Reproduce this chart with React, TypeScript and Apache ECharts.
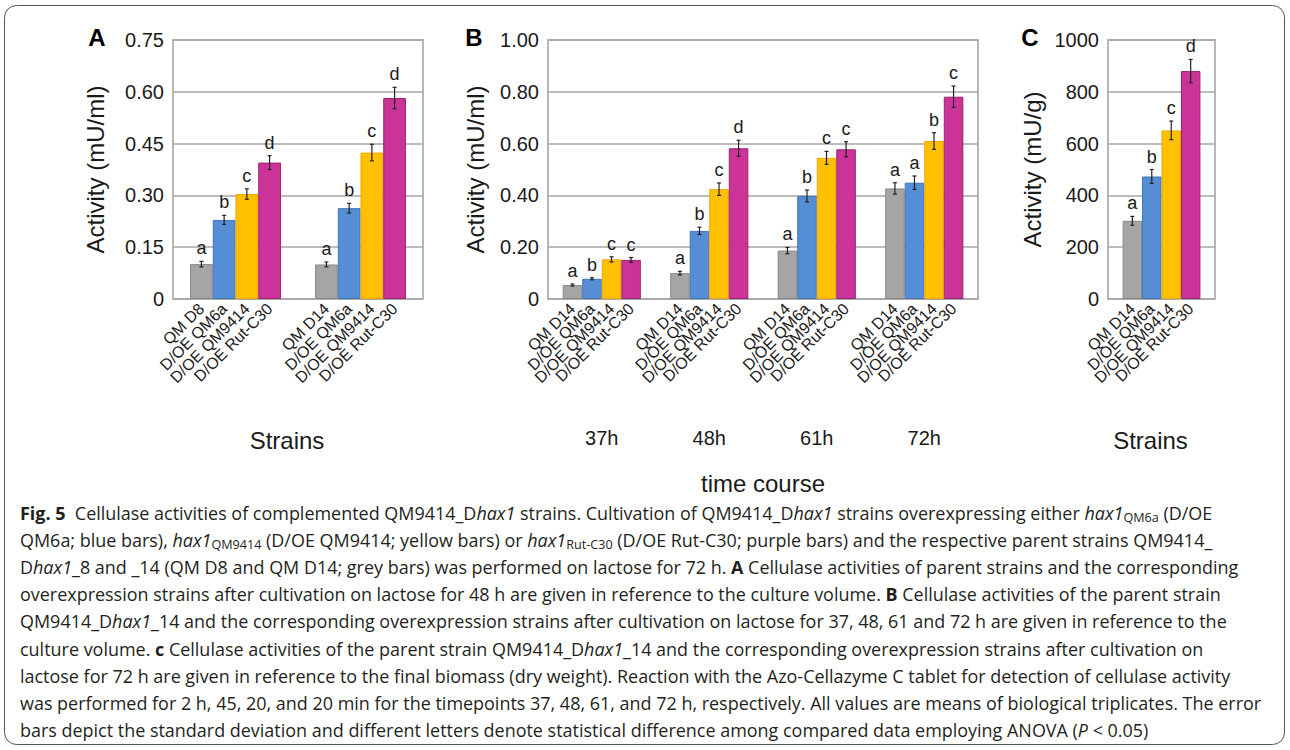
import React, { useEffect, useRef } from "react";
import * as echarts from "echarts";

// ---------- data ----------
const STRAINS_OE = ["D/OE QM6a", "D/OE QM9414", "D/OE Rut-C30"];
const PARENTS_A = ["QM D8", "QM D14"];
const PARENT_BC = "QM D14";
const TIME_POINTS = ["37h", "48h", "61h", "72h"];

// Panel A: activity (mU/ml) after 48 h, per group [grey, blue, yellow, purple]
const A_D8 = [0.101, 0.229, 0.304, 0.395];
const A_D14 = [0.1, 0.263, 0.424, 0.582];
const A_D8_ERR = [0.008, 0.013, 0.015, 0.02];
const A_D14_ERR = [0.007, 0.014, 0.024, 0.031];
const A_LETTERS = [["a", "b", "c", "d"], ["a", "b", "c", "d"]];

// Panel B: activity (mU/ml) over time, per time point
const B_37 = [0.054, 0.078, 0.153, 0.151];
const B_48 = [0.1, 0.263, 0.424, 0.582];
const B_61 = [0.187, 0.398, 0.545, 0.578];
const B_72 = [0.427, 0.449, 0.61, 0.781];
const B_37_ERR = [0.004, 0.004, 0.01, 0.009];
const B_48_ERR = [0.007, 0.014, 0.024, 0.031];
const B_61_ERR = [0.012, 0.023, 0.025, 0.029];
const B_72_ERR = [0.022, 0.026, 0.032, 0.041];
const B_LETTERS = [["a", "b", "c", "c"], ["a", "b", "c", "d"], ["a", "b", "c", "c"], ["a", "a", "b", "c"]];

// Panel C: activity (mU/g) after 72 h
const C_72 = [302, 473, 651, 880];
const C_72_ERR = [17, 27, 36, 45];
const C_LETTERS = [["a", "b", "c", "d"]];

// y-axis ticks
const A_TICKS = { max: 0.75, interval: 0.15 };
const B_TICKS = { max: 1.0, interval: 0.2 };
const C_TICKS = { max: 1000, interval: 200 };

const BAR_COLORS = ["#a5a5a5", "#558ed5", "#ffc000", "#cc3399"];
const BAR_BORDERS = ["#8a8a8a", "#4275b8", "#f0a500", "#98246f"];

const CAPTION_LINES = [
  "{b|Fig. 5}  Cellulase activities of complemented QM9414_D{i|hax1} strains. Cultivation of QM9414_D{i|hax1} strains overexpressing either {i|hax1}{sub|QM6a} (D/OE",
  "QM6a; blue bars), {i|hax1}{sub|QM9414} (D/OE QM9414; yellow bars) or {i|hax1}{sub|Rut-C30} (D/OE Rut-C30; purple bars) and the respective parent strains QM9414_",
  "D{i|hax1}_8 and _14 (QM D8 and QM D14; grey bars) was performed on lactose for 72 h. {b|A} Cellulase activities of parent strains and the corresponding",
  "overexpression strains after cultivation on lactose for 48 h are given in reference to the culture volume. {b|B} Cellulase activities of the parent strain",
  "QM9414_D{i|hax1}_14 and the corresponding overexpression strains after cultivation on lactose for 37, 48, 61 and 72 h are given in reference to the",
  "culture volume. {b|c} Cellulase activities of the parent strain QM9414_D{i|hax1}_14 and the corresponding overexpression strains after cultivation on",
  "lactose for 72 h are given in reference to the final biomass (dry weight). Reaction with the Azo-Cellazyme C tablet for detection of cellulase activity",
  "was performed for 2 h, 45, 20, and 20 min for the timepoints 37, 48, 61, and 72 h, respectively. All values are means of biological triplicates. The error",
  "bars depict the standard deviation and different letters denote statistical difference among compared data employing ANOVA ({i|P} < 0.05)",
];

const FONT = "'Liberation Sans', Arial, sans-serif";
const CAP_FONT = "'Open Sans', 'Noto Sans', sans-serif";
const TXT = "#1a1a1a";
const CAP_TXT = "#231f20";

function captionSize(): number {
  // size the caption font so that the plain 8th line spans the caption width
  const ctx = document.createElement("canvas").getContext("2d");
  if (!ctx) return 17.8;
  ctx.font = "20px 'Open Sans'";
  const w = ctx.measureText(CAPTION_LINES[7]).width;
  if (!w) return 17.8;
  const s = (20 * 1242) / w;
  return Math.max(15, Math.min(20, s));
}

type Panel = {
  rect: { left: number; top: number; width: number; height: number };
  groups: number[][];
  errs: number[][];
  letters: string[][];
  names: string[][];
  ticks: { max: number; interval: number };
  fmt: (v: number) => string;
  yName: string;
  yNameGap: number;
  cats: string[];
  showCats: boolean;
  xName: string;
  xNameGap: number;
  xNamePad: number[];
};

function buildPanel(p: Panel, gi: number) {
  const slots: string[] = [];
  p.groups.forEach((_, g) => {
    for (let k = 0; k < 11; k++) {
      slots.push(k >= 2 && k <= 8 && k % 2 === 0 ? p.names[g][(k - 2) / 2] : "");
    }
  });
  const grid = {
    ...p.rect,
    show: true,
    borderColor: "#a0a0a0",
    borderWidth: 1.5,
    backgroundColor: "transparent",
    containLabel: false,
    outerBoundsMode: "none",
  };
  const primary = {
    type: "category",
    gridIndex: gi,
    position: "bottom",
    data: p.cats,
    axisLine: { show: false },
    axisTick: { show: false },
    splitLine: { show: false },
    axisLabel: { show: p.showCats, margin: 129, fontSize: 20, fontFamily: FONT, color: TXT },
    name: p.xName,
    nameLocation: "middle",
    nameGap: p.xNameGap,
    nameTextStyle: { fontSize: 24, fontFamily: FONT, color: TXT, padding: p.xNamePad },
  };
  const secondary = {
    type: "category",
    gridIndex: gi,
    position: "bottom",
    offset: 0,
    data: slots,
    axisLine: { show: false },
    axisTick: { show: false },
    splitLine: { show: false },
    axisLabel: { interval: 0, rotate: 45, margin: 7, fontSize: 16, fontFamily: FONT, color: TXT },
  };
  const yAxis = {
    type: "value",
    gridIndex: gi,
    min: 0,
    max: p.ticks.max,
    interval: p.ticks.interval,
    axisLine: { show: false },
    axisTick: { show: false },
    splitLine: { show: true, lineStyle: { color: "#a6a6a6", width: 1.5 } },
    axisLabel: { formatter: p.fmt, fontSize: 20, fontFamily: FONT, color: TXT, margin: 9 },
    name: p.yName,
    nameLocation: "middle",
    nameGap: p.yNameGap,
    nameTextStyle: { fontSize: 24, fontFamily: FONT, color: TXT },
  };
  const series: any[] = [0, 1, 2, 3].map((s) => ({
    type: "bar",
    xAxisIndex: gi * 2,
    yAxisIndex: gi,
    data: p.groups.map((g) => g[s]),
    barGap: "0%",
    barCategoryGap: "27.2727%",
    itemStyle: { color: BAR_COLORS[s], borderColor: BAR_BORDERS[s], borderWidth: 1 },
    z: 2,
  }));
  const errData: number[][] = [];
  p.groups.forEach((vals, g) => vals.forEach((v, s) => errData.push([g, s, v, p.errs[g][s]])));
  series.push({
    type: "custom",
    xAxisIndex: gi * 2,
    yAxisIndex: gi,
    clip: false,
    z: 5,
    encode: { x: 0, y: 2 },
    data: errData,
    renderItem: (params: any, api: any) => {
      const g = api.value(0);
      const s = api.value(1);
      const v = api.value(2);
      const e = api.value(3);
      const c = api.coord([g, v]);
      const bw = api.size([1, 0])[0];
      const barW = (bw * 2) / 11;
      const x = c[0] + (s - 1.5) * barW;
      const yT = api.coord([g, v + e])[1];
      const yB = api.coord([g, v - e])[1];
      const st = { stroke: "#222", lineWidth: 1.2 };
      return {
        type: "group",
        children: [
          { type: "line", shape: { x1: x, y1: yT, x2: x, y2: yB }, style: st },
          { type: "line", shape: { x1: x - 2, y1: yT, x2: x + 2, y2: yT }, style: st },
          { type: "line", shape: { x1: x - 2, y1: yB, x2: x + 2, y2: yB }, style: st },
          {
            type: "text",
            x,
            y: yT - 4,
            style: {
              text: p.letters[g][s],
              fontSize: 18,
              fontFamily: FONT,
              fill: TXT,
              align: "center",
              verticalAlign: "bottom",
            },
          },
        ],
      };
    },
  });
  return { grid, xAxes: [primary, secondary], yAxis, series };
}

const fmt2 = (v: number) => (v === 0 ? "0" : v.toFixed(2));
const fmt0 = (v: number) => String(v);

export default function App() {
  const ref = useRef<HTMLDivElement>(null);
  useEffect(() => {
    document.body.style.margin = "0";
    if (!ref.current) return;
    const chart = echarts.init(ref.current, null, { renderer: "svg" });

    const panels: Panel[] = [
      {
        rect: { left: 173, top: 40, width: 250, height: 259 },
        groups: [A_D8, A_D14],
        errs: [A_D8_ERR, A_D14_ERR],
        letters: A_LETTERS,
        names: PARENTS_A.map((pn) => [pn, ...STRAINS_OE]),
        ticks: A_TICKS,
        fmt: fmt2,
        yName: "Activity (mU/ml)",
        yNameGap: 66,
        cats: PARENTS_A,
        showCats: false,
        xName: "Strains",
        xNameGap: 129,
        xNamePad: [0, 22, 0, 0],
      },
      {
        rect: { left: 548, top: 40, width: 430, height: 259 },
        groups: [B_37, B_48, B_61, B_72],
        errs: [B_37_ERR, B_48_ERR, B_61_ERR, B_72_ERR],
        letters: B_LETTERS,
        names: TIME_POINTS.map(() => [PARENT_BC, ...STRAINS_OE]),
        ticks: B_TICKS,
        fmt: fmt2,
        yName: "Activity (mU/ml)",
        yNameGap: 61,
        cats: TIME_POINTS,
        showCats: true,
        xName: "time course",
        xNameGap: 172,
        xNamePad: [0, 0, 0, 0],
      },
      {
        rect: { left: 1108, top: 40, width: 107, height: 259 },
        groups: [C_72],
        errs: [C_72_ERR],
        letters: C_LETTERS,
        names: [[PARENT_BC, ...STRAINS_OE]],
        ticks: C_TICKS,
        fmt: fmt0,
        yName: "Activity (mU/g)",
        yNameGap: 64,
        cats: ["72h"],
        showCats: false,
        xName: "Strains",
        xNameGap: 129,
        xNamePad: [0, 22, 0, 0],
      },
    ];
    const built = panels.map((p, i) => buildPanel(p, i));

    const capSize = captionSize();
    const subSize = Math.round(capSize * 0.7 * 10) / 10;
    const capRich = {
      b: { fontFamily: CAP_FONT, fontSize: capSize, fontWeight: "bold", fill: CAP_TXT, lineHeight: 22 },
      i: { fontFamily: CAP_FONT, fontSize: capSize, fontStyle: "italic", fill: CAP_TXT, lineHeight: 22 },
      sub: { fontFamily: CAP_FONT, fontSize: subSize, fill: CAP_TXT, lineHeight: 12, verticalAlign: "bottom" },
    };
    const captionGraphics = CAPTION_LINES.map((line, i) => ({
      type: "text",
      x: 20,
      y: 513 + i * 27.1,
      style: {
        text: line,
        fontFamily: CAP_FONT,
        fontSize: capSize,
        fill: CAP_TXT,
        lineHeight: 22,
        verticalAlign: "middle",
        align: "left",
        rich: capRich,
      },
    }));
    const letterGraphics = [
      ["A", 97],
      ["B", 474],
      ["C", 1030],
    ].map(([t, x]) => ({
      type: "text",
      x: x as number,
      y: 37,
      style: {
        text: t as string,
        fontFamily: FONT,
        fontSize: 24,
        fontWeight: "bold",
        fill: "#000",
        align: "center",
        verticalAlign: "middle",
      },
    }));

    chart.setOption({
      animation: false,
      backgroundColor: "#ffffff",
      grid: built.map((b) => b.grid),
      xAxis: built.flatMap((b) => b.xAxes),
      yAxis: built.map((b) => b.yAxis),
      series: built.flatMap((b) => b.series),
      graphic: [
        {
          type: "rect",
          shape: { x: 4.5, y: 5.5, width: 1280, height: 739, r: 12 },
          style: { fill: "none", stroke: "#555", lineWidth: 1 },
          silent: true,
        },
        ...letterGraphics,
        ...captionGraphics,
      ],
    });
    return () => chart.dispose();
  }, []);
  return <div ref={ref} style={{ width: 1290, height: 750 }} />;
}
